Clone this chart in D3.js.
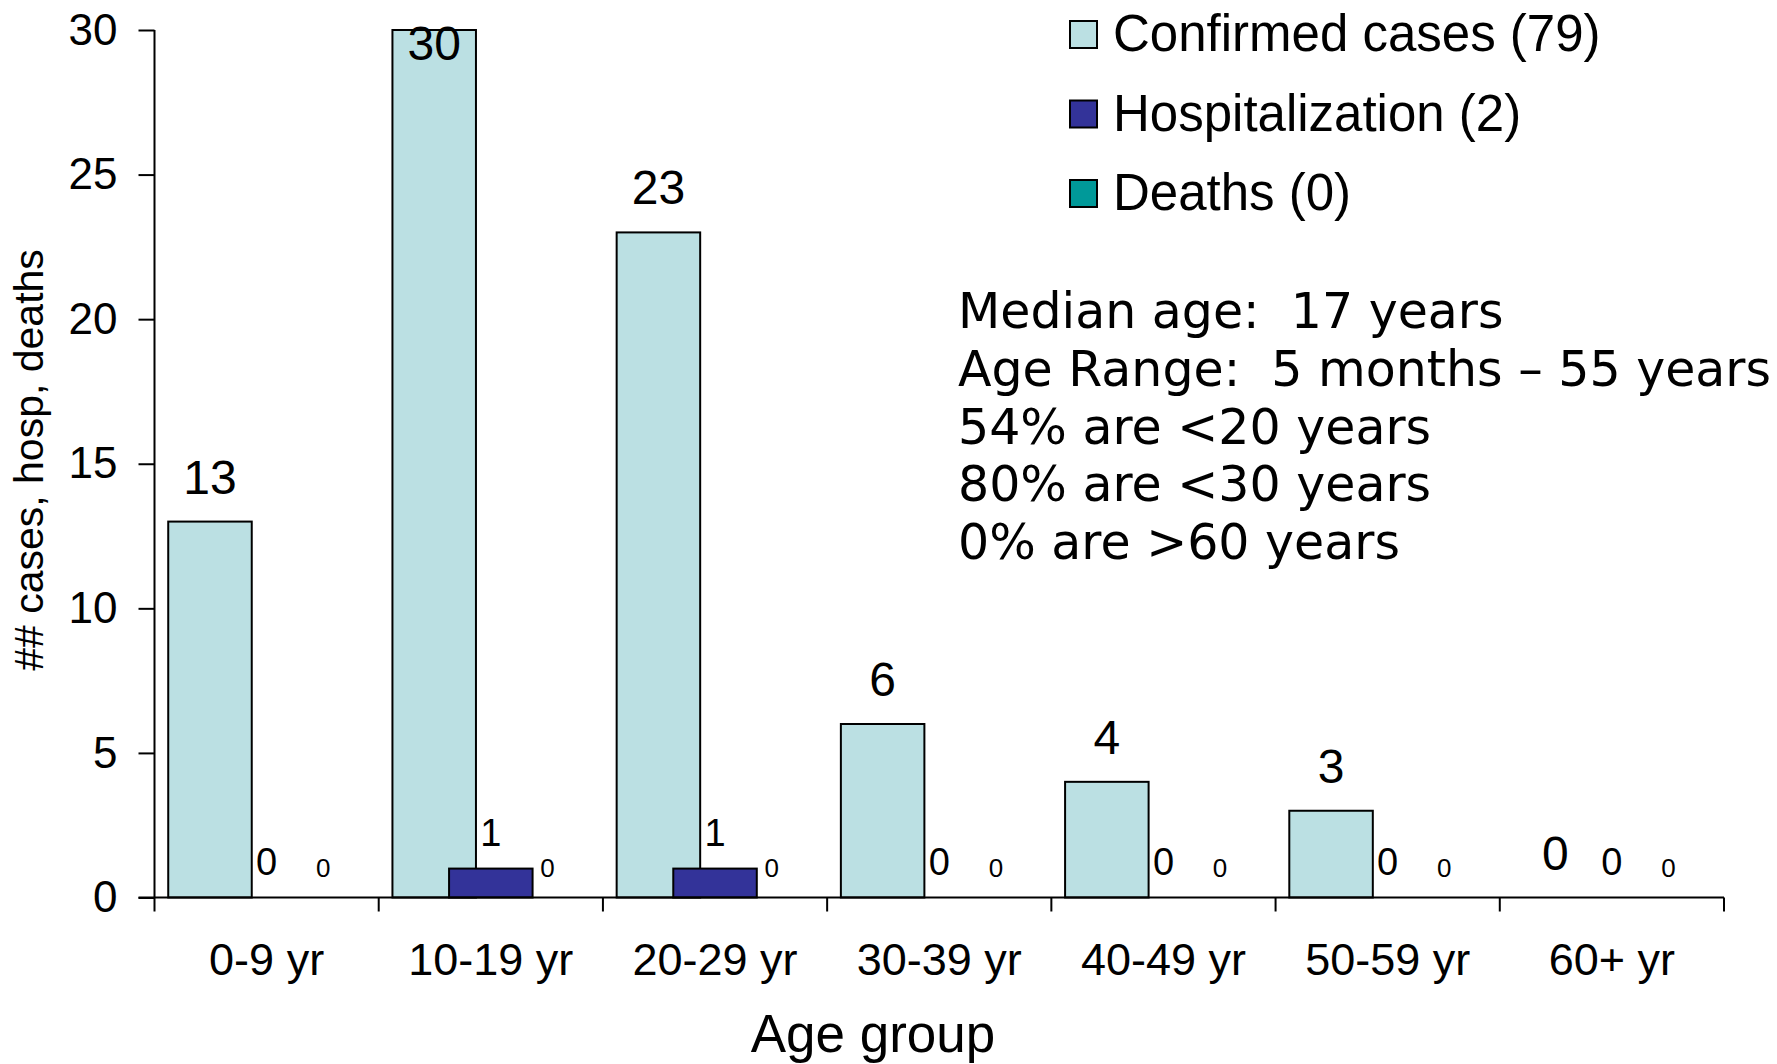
<!DOCTYPE html>
<html>

<head>
    <script src="https://cdnjs.cloudflare.com/ajax/libs/d3/7.8.5/d3.min.js"></script>
    <style>
        body {
            margin: 0;
            background-color: #ffffff;
        }
        text {
            font-family: 'Liberation Sans', Arial, sans-serif;
            fill: #000000;
        }
    </style>
    <title>Age group</title>
</head>

<body>
    <svg id="chart" width="1777" height="1064"></svg>

    <script>
        // chart data
        var ageGroups = ["0-9 yr", "10-19 yr", "20-29 yr", "30-39 yr", "40-49 yr", "50-59 yr", "60+ yr"];
        var confirmed = [13, 30, 23, 6, 4, 3, 0];
        var hospitalization = [0, 1, 1, 0, 0, 0, 0];
        var deaths = [0, 0, 0, 0, 0, 0, 0];
        var seriesNames = ["Confirmed cases (79)", "Hospitalization (2)", "Deaths (0)"];
        var yTicks = [0, 5, 10, 15, 20, 25, 30];
        var notes = [
            "Median age:  17 years",
            "Age Range:  5 months \u2013 55 years",
            "54% are <20 years",
            "80% are <30 years",
            "0% are >60 years"
        ];

        var colors = ["#bbe0e3", "#333399", "#009999"];
        var labelSizes = [48, 38, 26];
        var labelGaps = [28, 23, 21];

        var svg = d3.select("#chart");
        var plotLeft = 154.5, plotRight = 1724, plotTop = 30, plotBottom = 897.5;

        var x0 = d3.scaleBand()
            .domain(ageGroups)
            .range([plotLeft, plotRight])
            .padding(0);
        var x1 = d3.scalePoint()
            .domain(seriesNames)
            .range([0, x0.bandwidth()])
            .padding(0.98);
        var barW = x1.step() * 1.475;
        var y = d3.scaleLinear()
            .domain([0, 30])
            .range([plotBottom, plotTop]);

        var rows = [confirmed, hospitalization, deaths];

        // bars, series in order so later ones sit on top
        rows.forEach(function (vals, s) {
            var pts = vals.map(function (v, i) { return { g: ageGroups[i], v: v }; })
                .filter(function (d) { return d.v > 0; });
            svg.append("g")
                .selectAll("rect")
                .data(pts)
                .enter()
                .append("rect")
                .attr("x", function (d) { return x0(d.g) + x1(seriesNames[s]) - barW / 2; })
                .attr("y", function (d) { return y(d.v); })
                .attr("width", barW)
                .attr("height", function (d) { return y(0) - y(d.v); })
                .attr("fill", colors[s])
                .attr("stroke", "#000")
                .attr("stroke-width", 2);
        });

        // value labels
        rows.forEach(function (vals, s) {
            svg.append("g")
                .selectAll("text")
                .data(vals)
                .enter()
                .append("text")
                .attr("x", function (d, i) { return x0(ageGroups[i]) + x1(seriesNames[s]); })
                .attr("y", function (d) { return Math.max(y(d) - labelGaps[s], 60); })
                .attr("text-anchor", "middle")
                .attr("font-size", labelSizes[s] + "px")
                .text(function (d) { return d; });
        });

        // y axis
        var yAxis = d3.axisLeft(y)
            .tickValues(yTicks)
            .tickSize(16)
            .tickPadding(21);
        var gy = svg.append("g")
            .attr("transform", "translate(" + plotLeft + ",0)")
            .call(yAxis);
        gy.select(".domain").attr("stroke", "#000").attr("stroke-width", 2)
            .attr("d", "M0," + plotTop + "V" + plotBottom);
        gy.selectAll(".tick line").attr("stroke", "#000").attr("stroke-width", 2);
        gy.selectAll(".tick text")
            .attr("font-size", "44px")
            .attr("font-family", "'Liberation Sans', Arial, sans-serif");

        // x axis
        var xAxis = d3.axisBottom(x0)
            .tickSize(0)
            .tickPadding(46);
        var gx = svg.append("g")
            .attr("transform", "translate(0," + plotBottom + ")")
            .call(xAxis);
        gx.select(".domain").attr("stroke", "#000").attr("stroke-width", 2)
            .attr("d", "M" + (plotLeft - 16) + ",0H" + plotRight);
        gx.selectAll(".tick text")
            .attr("font-size", "45px")
            .attr("font-family", "'Liberation Sans', Arial, sans-serif");

        // boundary ticks between groups
        var bounds = ageGroups.map(function (g) { return x0(g); }).concat([plotRight]);
        gx.selectAll(".bound")
            .data(bounds)
            .enter()
            .append("line")
            .attr("class", "bound")
            .attr("x1", function (d) { return d; })
            .attr("x2", function (d) { return d; })
            .attr("y1", 0)
            .attr("y2", 14)
            .attr("stroke", "#000")
            .attr("stroke-width", 2);

        // axis titles
        svg.append("text")
            .attr("x", 873)
            .attr("y", 1052)
            .attr("text-anchor", "middle")
            .attr("font-size", "53px")
            .text("Age group");

        svg.append("text")
            .attr("transform", "translate(43,460) rotate(-90)")
            .attr("text-anchor", "middle")
            .attr("font-size", "41px")
            .text("## cases, hosp, deaths");

        // legend
        var legend = svg.append("g")
            .selectAll("g")
            .data(seriesNames)
            .enter()
            .append("g")
            .attr("transform", function (d, i) { return "translate(1070," + (21 + i * 79.5) + ")"; });
        legend.append("rect")
            .attr("width", 27)
            .attr("height", 27)
            .attr("fill", function (d, i) { return colors[i]; })
            .attr("stroke", "#000")
            .attr("stroke-width", 2);
        legend.append("text")
            .attr("x", 43)
            .attr("y", 30)
            .attr("font-size", "51px")
            .text(function (d) { return d; });

        // notes block
        svg.append("g")
            .selectAll("text")
            .data(notes)
            .enter()
            .append("text")
            .attr("x", 958)
            .attr("y", function (d, i) { return 328 + i * 57.8; })
            .attr("font-size", "49px")
            .style("font-family", "'DejaVu Sans', Verdana, sans-serif")
            .style("white-space", "pre")
            .text(function (d) { return d; });
    </script>
</body>
</html>
